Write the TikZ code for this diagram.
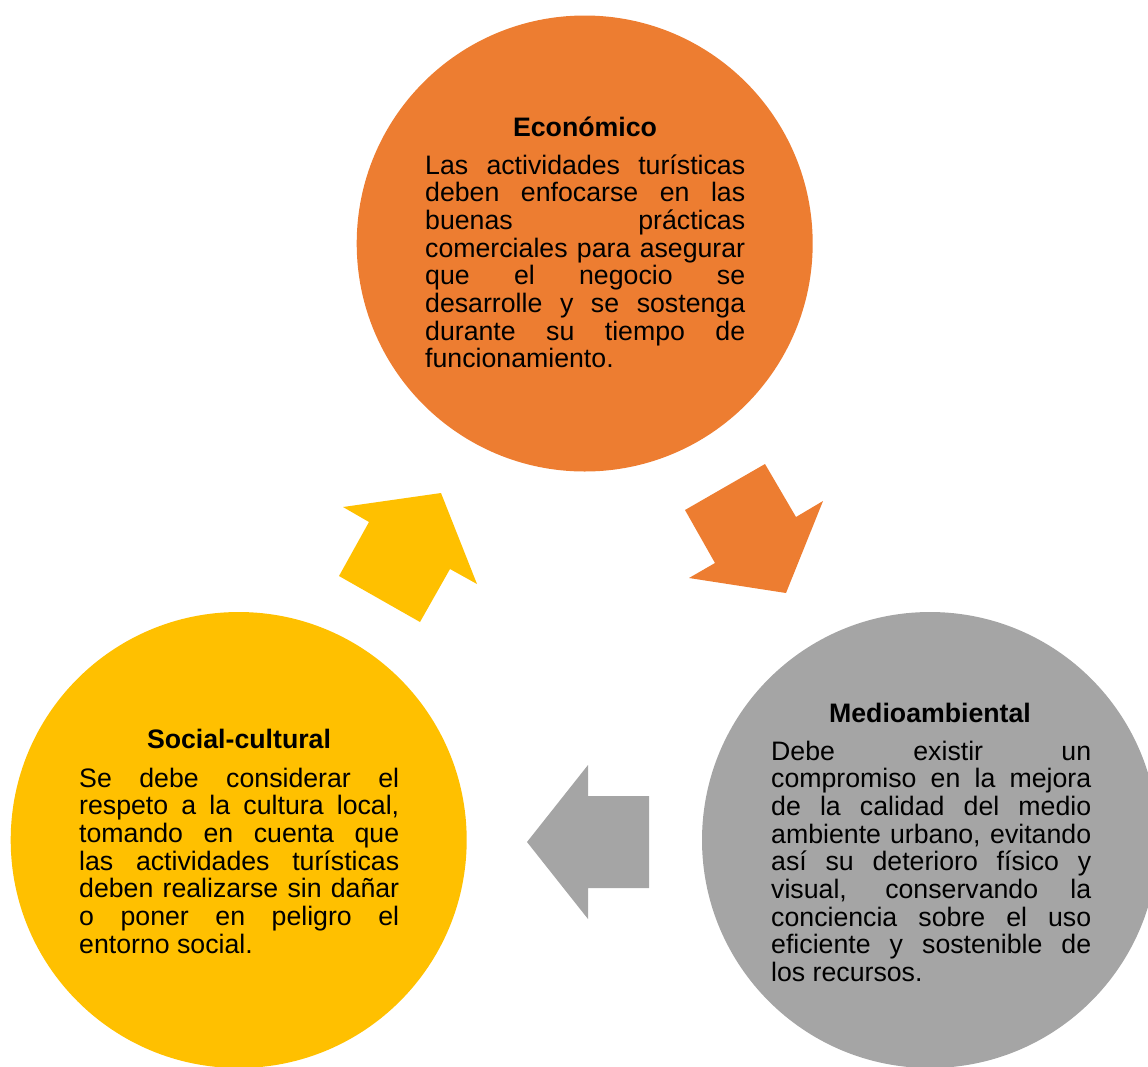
\documentclass[tikz,border=0pt]{standalone}
\usepackage{fontspec}
\setmainfont{Liberation Sans}
\definecolor{ecoC}{HTML}{ED7D31}
\definecolor{socC}{HTML}{FFC000}
\definecolor{medC}{HTML}{A5A5A5}
\newcommand{\jline}[1]{\makebox[320pt][s]{#1}}
\begin{document}
\begin{tikzpicture}[x=1pt,y=-1pt,
  disc/.style={circle, inner sep=0pt, minimum size=456pt, draw=none},
  ttl/.style={anchor=base, inner sep=0pt, font=\fontsize{26.7}{27.7}\selectfont\bfseries},
  bodytext/.style={anchor=base west, inner sep=0pt, font=\fontsize{26.7}{27.7}\selectfont}]
\useasboundingbox (0,0) rectangle (1148,1066);
\clip (0,0) rectangle (1148,1066);

% circles
\node[disc, fill=ecoC] (eco) at (584.7,243.5) {};
\node[disc, fill=socC] (soc) at (238.7,840) {};
\node[disc, fill=medC] (med) at (930,840) {};

% block arrows
\fill[ecoC] (685,510) -- (765,464) -- (796,517) -- (823,501) -- (786,593) -- (689,578) -- (715,563) -- cycle;
\fill[socC] (343,507) -- (441,493) -- (477,584) -- (450,569) -- (420,622) -- (339,576) -- (369,522) -- cycle;
\fill[medC] (527,842) -- (588,765) -- (588,796) -- (649,796) -- (649,888) -- (588,888) -- (588,919) -- cycle;

% texts
\node[ttl] (ecoT) at (585,136) {Económico};
\node[bodytext] (ecoB) at (425,174) {\parbox[t]{320pt}{%
\jline{Las actividades turísticas}\\
\jline{deben enfocarse en las}\\
\jline{buenas prácticas}\\
\jline{comerciales para asegurar}\\
\jline{que el negocio se}\\
\jline{desarrolle y se sostenga}\\
\jline{durante su tiempo de}\\
funcionamiento.}};

\node[ttl] (socT) at (239,748) {Social-cultural};
\node[bodytext] (socB) at (79,787) {\parbox[t]{320pt}{%
\jline{Se debe considerar el}\\
\jline{respeto a la cultura local,}\\
\jline{tomando en cuenta que}\\
\jline{las actividades turísticas}\\
\jline{deben realizarse sin dañar}\\
\jline{o poner en peligro el}\\
entorno social.}};

\node[ttl] (medT) at (930,722) {Medioambiental};
\node[bodytext] (medB) at (771,760) {\parbox[t]{320pt}{%
\jline{Debe existir un}\\
\jline{compromiso en la mejora}\\
\jline{de la calidad del medio}\\
\jline{ambiente urbano, evitando}\\
\jline{así su deterioro físico y}\\
\jline{visual, conservando la}\\
\jline{conciencia sobre el uso}\\
\jline{eficiente y sostenible de}\\
los recursos.}};
\end{tikzpicture}
\end{document}
